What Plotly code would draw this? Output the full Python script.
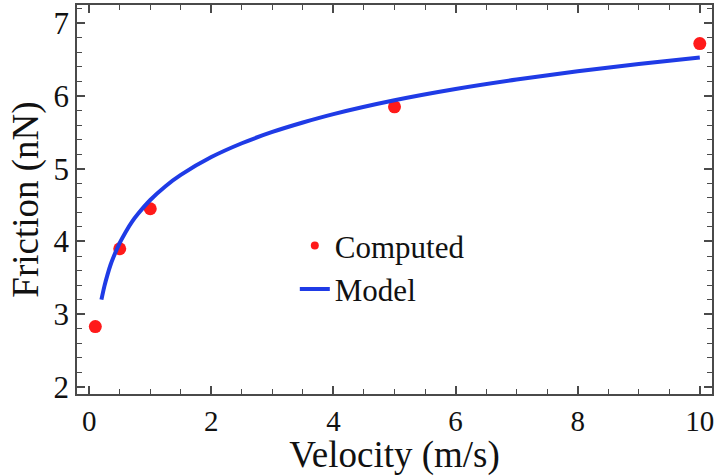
import plotly.graph_objects as go

# Computed data points
computed_x = [0.1, 0.5, 1.0, 5.0, 10.0]
computed_y = [2.83, 3.90, 4.45, 5.85, 6.72]

# Model curve
model_x = [0.2, 0.25, 0.3, 0.35, 0.4, 0.5, 0.6, 0.7, 0.8, 1.0, 1.25, 1.5, 2.0, 2.5, 3.0, 3.5, 4.0, 5.0, 6.0, 7.0, 8.0, 9.0, 10.0]
model_y = [3.20, 3.39, 3.545, 3.68, 3.79, 3.98, 4.135, 4.27, 4.38, 4.57, 4.76, 4.915, 5.16, 5.35, 5.505, 5.635, 5.75, 5.94, 6.095, 6.225, 6.34, 6.44, 6.53]

FONT = "Liberation Serif"
AXIS_COLOR = "#4a4a4a"
RED = "#ff1a1a"
BLUE = "#1f3be6"

fig = go.Figure()
fig.add_trace(go.Scatter(
    x=computed_x, y=computed_y, mode="markers", name="Computed",
    marker=dict(color=RED, size=13), showlegend=False,
))
# legend-only entry with the smaller legend dot
fig.add_trace(go.Scatter(
    x=[None], y=[None], mode="markers", name="Computed",
    marker=dict(color=RED, size=8),
))
fig.add_trace(go.Scatter(
    x=model_x, y=model_y, mode="lines", name="Model",
    line=dict(color=BLUE, width=4, shape="spline"),
))

axis_common = dict(
    showline=True, linecolor=AXIS_COLOR, linewidth=1.5, mirror="allticks",
    ticks="inside", ticklen=8, tickwidth=1.5, tickcolor=AXIS_COLOR,
    showgrid=False, zeroline=False,
)

fig.update_xaxes(
    range=[-0.2, 10.2], dtick=2, tick0=0,
    minor=dict(dtick=0.5, ticks="inside", ticklen=5, tickwidth=1.2, tickcolor=AXIS_COLOR),
    tickfont=dict(family=FONT, size=29, color="#111"),
    title=dict(text="Velocity (m/s)", font=dict(family=FONT, size=37, color="#111"), standoff=0),
    **axis_common,
)
fig.update_yaxes(
    range=[1.904, 7.25], dtick=1, tick0=0,
    minor=dict(dtick=0.2, ticks="inside", ticklen=5, tickwidth=1.2, tickcolor=AXIS_COLOR),
    tickfont=dict(family=FONT, size=31, color="#111"),
    title=dict(text="Friction (nN)", font=dict(family=FONT, size=37, color="#111"), standoff=4),
    **axis_common,
)

fig.update_layout(
    width=718, height=476,
    margin=dict(l=77, r=6, t=3, b=82),
    paper_bgcolor="white", plot_bgcolor="white",
    showlegend=True,
    legend=dict(
        x=0.343, y=0.45, xanchor="left", yanchor="top",
        font=dict(family=FONT, size=31, color="#111"),
        bgcolor="rgba(0,0,0,0)", tracegroupgap=0,
    ),
)

fig.write_html(
    "out.html",
    config={"displayModeBar": False},
    post_script="document.body.style.margin='0';document.body.style.padding='0';",
)
